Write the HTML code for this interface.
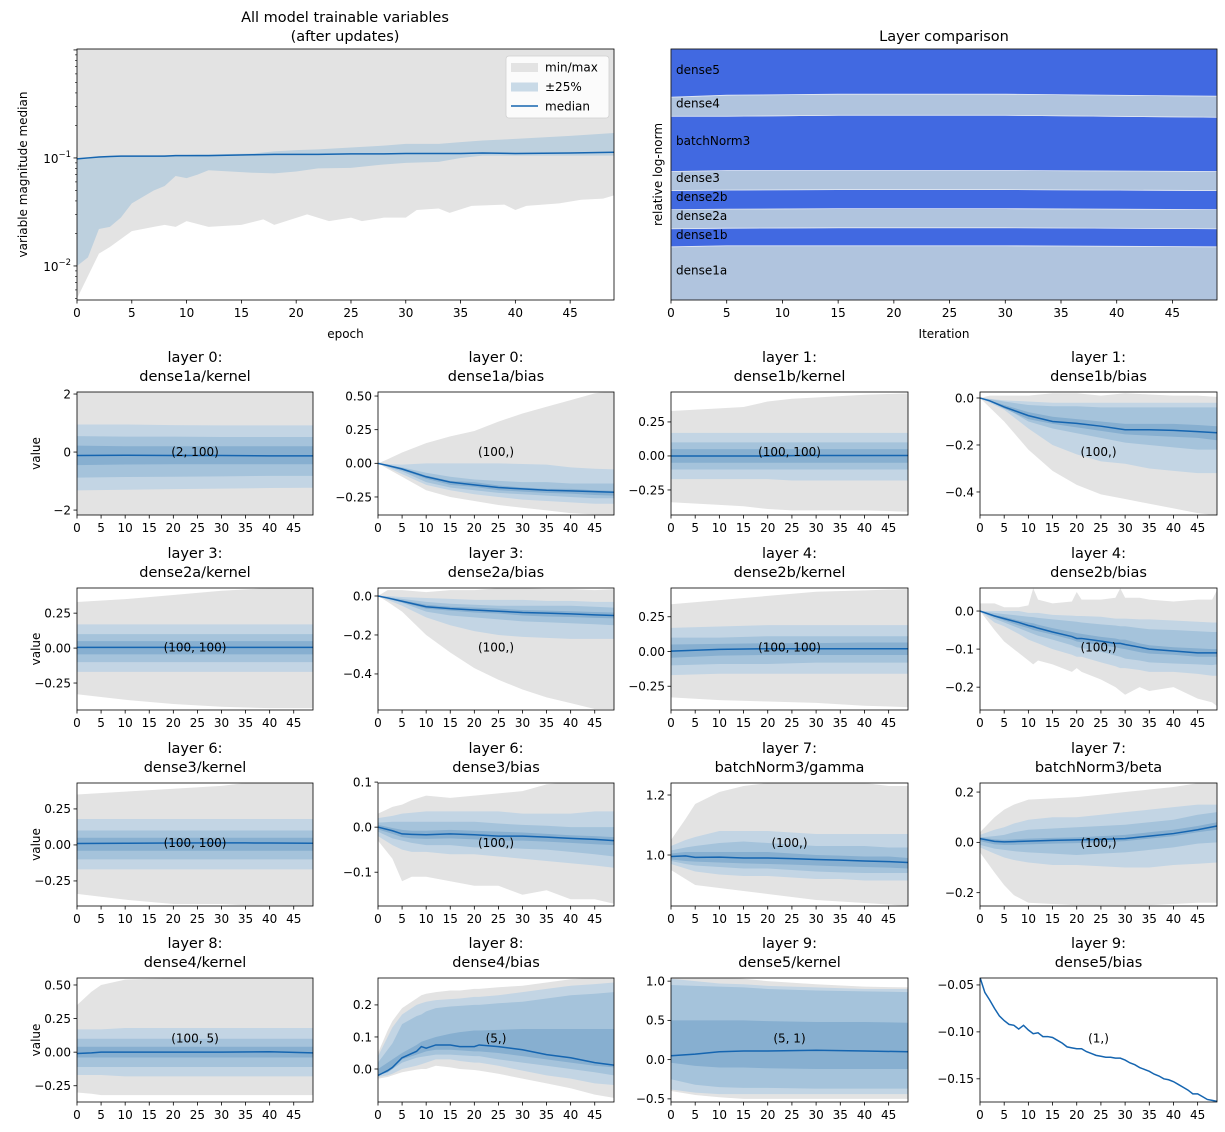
<!DOCTYPE html>
<html><head><meta charset="utf-8">
<style>
html,body{margin:0;padding:0;background:#fff;}
svg{display:block;font-family:"DejaVu Sans","Liberation Sans",sans-serif;}
</style></head>
<body>
<svg id="fig" width="1225" height="1132" viewBox="0 0 1225 1132" xmlns="http://www.w3.org/2000/svg"></svg>
<script>
// ---------- top-left data ----------
const tlMinEp=[0,2,3,5,7,8,9,10,12,15,17,18,21,23,25,26,28,30,31,33,34,36,39,40,41,44,46,48,49];
const tlMin=[0.005,0.013,0.015,0.021,0.023,0.024,0.023,0.026,0.023,0.024,0.027,0.024,0.03,0.026,0.028,0.026,0.028,0.028,0.033,0.034,0.031,0.036,0.037,0.033,0.036,0.038,0.041,0.042,0.045];
const tlEp=[0,1,2,3,4,5,7,8,9,10,11,12,16,18,20,22,25,28,30,33,35,37,40,45,49];
const tlLo=[0.01,0.012,0.022,0.023,0.028,0.038,0.05,0.055,0.068,0.065,0.07,0.077,0.073,0.072,0.075,0.08,0.081,0.087,0.09,0.092,0.1,0.105,0.105,0.105,0.105];
const tlHi=[0.1,0.102,0.103,0.104,0.104,0.105,0.105,0.106,0.107,0.107,0.108,0.108,0.11,0.115,0.118,0.12,0.125,0.13,0.135,0.135,0.14,0.145,0.15,0.16,0.17];
const tlMed=[0.098,0.1,0.102,0.103,0.104,0.104,0.104,0.104,0.105,0.105,0.105,0.105,0.107,0.108,0.108,0.108,0.109,0.109,0.11,0.11,0.11,0.111,0.11,0.111,0.113];
const tlMax=1.2;
// ---------- layer comparison data ----------
const lcEp=[0,5,15,30,49];
const lcLayers=["dense1a","dense1b","dense2a","dense2b","dense3","batchNorm3","dense4","dense5"];
const lcDense1a=[53,54,54,54,53];
const lcDense1b=[18,17.5,18,18,18];
const lcDense2a=[19,19,19,19,19];
const lcDense2b=[19,19,19,19,19];
const lcDense3=[19,19.5,19,19,19];
const lcBatchNorm3=[55,54,55,55,54];
const lcDense4=[19,21,21,21,21];
const lcDense5=[48,46,45,45,47];
const xTicks=[0,5,10,15,20,25,30,35,40,45];
// ---------- P1 dense1a/kernel ----------
const p1Ep=[0,10,20,30,40,49];
const p1Min=[-2.3,-2.3,-2.3,-2.3,-2.3,-2.3], p1Max=[2.2,2.2,2.2,2.2,2.2,2.2];
const p1H1=[0.95,0.95,0.93,0.92,0.92,0.92], p1L1=[-1.32,-1.3,-1.28,-1.26,-1.24,-1.23];
const p1H2=[0.55,0.53,0.53,0.52,0.52,0.52], p1L2=[-0.88,-0.86,-0.85,-0.84,-0.82,-0.82];
const p1H3=[0.22,0.2,0.2,0.2,0.2,0.2], p1L3=[-0.45,-0.43,-0.42,-0.42,-0.42,-0.42];
const p1Med=[-0.12,-0.11,-0.12,-0.12,-0.13,-0.13];
const p1Ticks=[-2,0,2], p1Labels=["−2","0","2"];
// ---------- P2 dense1a/bias ----------
const p2Ep=[0,2,5,10,15,20,25,30,35,40,45,49];
const p2Max=[0,0.03,0.08,0.15,0.2,0.24,0.31,0.37,0.42,0.47,0.52,0.54];
const p2Min=[0,-0.04,-0.1,-0.2,-0.25,-0.28,-0.31,-0.33,-0.35,-0.37,-0.38,-0.385];
const p2H1=[0,-0.005,-0.01,0,0,0,0,-0.005,-0.01,-0.03,-0.04,-0.045];
const p2L1=[0,-0.03,-0.08,-0.16,-0.2,-0.23,-0.25,-0.27,-0.28,-0.29,-0.3,-0.3];
const p2H2=[0,-0.01,-0.03,-0.07,-0.1,-0.12,-0.13,-0.14,-0.14,-0.15,-0.15,-0.15];
const p2L2=[0,-0.025,-0.06,-0.14,-0.18,-0.2,-0.22,-0.23,-0.24,-0.25,-0.26,-0.26];
const p2H3=[0,-0.013,-0.035,-0.09,-0.13,-0.14,-0.165,-0.18,-0.19,-0.19,-0.2,-0.205];
const p2L3=[0,-0.02,-0.05,-0.115,-0.16,-0.175,-0.2,-0.21,-0.22,-0.225,-0.235,-0.24];
const p2Med=[0,-0.016,-0.042,-0.1,-0.14,-0.16,-0.18,-0.19,-0.2,-0.205,-0.21,-0.215];
const p2Ticks=[-0.25,0,0.25,0.5], p2Labels=["−0.25","0.00","0.25","0.50"];
// ---------- P3 dense1b/kernel ----------
const p3Ep=[0,10,15,20,25,30,40,49];
const p3Max=[0.33,0.35,0.36,0.40,0.42,0.43,0.45,0.46];
const p3Min=[-0.34,-0.36,-0.37,-0.39,-0.40,-0.40,-0.40,-0.41];
const p3H1=[0.17,0.17,0.17,0.17,0.17,0.17,0.17,0.17], p3L1=[-0.17,-0.17,-0.17,-0.17,-0.18,-0.18,-0.18,-0.18];
const p3H2=[0.1,0.1,0.1,0.1,0.1,0.1,0.1,0.1], p3L2=[-0.1,-0.1,-0.1,-0.1,-0.1,-0.1,-0.1,-0.1];
const p3H3=[0.05,0.05,0.05,0.05,0.05,0.05,0.05,0.05], p3L3=[-0.05,-0.05,-0.05,-0.05,-0.05,-0.05,-0.05,-0.05];
const p3Med=[0,0,0,0,0.002,0.003,0.003,0.003];
const p3Ticks=[-0.25,0,0.25], p3Labels=["−0.25","0.00","0.25"];
// ---------- P4 dense1b/bias ----------
const p4Ep=[0,2,5,10,15,20,25,30,35,40,45,49];
const p4Max=[0,0.01,0.01,0.01,0.02,0.02,0.01,0.02,0.015,0.01,0.01,0.005];
const p4Min=[0,-0.04,-0.1,-0.22,-0.31,-0.37,-0.41,-0.43,-0.45,-0.47,-0.49,-0.5];
const p4H1=[0,-0.003,-0.01,-0.015,-0.02,-0.02,-0.02,-0.02,-0.02,-0.02,-0.02,-0.02];
const p4L1=[0,-0.02,-0.05,-0.13,-0.2,-0.24,-0.27,-0.28,-0.3,-0.31,-0.32,-0.32];
const p4H2=[0,-0.005,-0.015,-0.03,-0.035,-0.035,-0.04,-0.04,-0.04,-0.04,-0.04,-0.04];
const p4L2=[0,-0.015,-0.04,-0.1,-0.13,-0.15,-0.17,-0.19,-0.2,-0.21,-0.22,-0.22];
const p4H3=[0,-0.01,-0.03,-0.06,-0.08,-0.09,-0.1,-0.11,-0.11,-0.11,-0.115,-0.12];
const p4L3=[0,-0.015,-0.045,-0.09,-0.11,-0.125,-0.14,-0.155,-0.16,-0.165,-0.17,-0.18];
const p4Med=[0,-0.012,-0.038,-0.075,-0.1,-0.108,-0.12,-0.135,-0.135,-0.138,-0.143,-0.148];
const p4Ticks=[-0.4,-0.2,0], p4Labels=["−0.4","−0.2","0.0"];
// ---------- P5 dense2a/kernel ----------
const p5Ep=[0,10,20,30,40,49];
const p5Max=[0.33,0.35,0.38,0.41,0.43,0.43], p5Min=[-0.33,-0.37,-0.4,-0.42,-0.43,-0.43];
const p5H1=[0.17,0.17,0.17,0.17,0.17,0.17], p5L1=[-0.17,-0.17,-0.17,-0.17,-0.17,-0.17];
const p5H2=[0.1,0.1,0.1,0.1,0.1,0.1], p5L2=[-0.1,-0.1,-0.1,-0.1,-0.1,-0.1];
const p5H3=[0.05,0.05,0.05,0.05,0.05,0.05], p5L3=[-0.045,-0.045,-0.045,-0.045,-0.045,-0.045];
const p5Med=[0.005,0.005,0.005,0.005,0.005,0.005];
const p5Ticks=[-0.25,0,0.25], p5Labels=["−0.25","0.00","0.25"];
// ---------- P6 dense2a/bias ----------
const p6Ep=[0,2,5,10,15,20,25,30,35,40,45,49];
const p6Max=[0,0.03,0.03,0.02,0.03,0.03,0.04,0.04,0.035,0.035,0.03,0.035];
const p6Min=[0,-0.03,-0.08,-0.2,-0.29,-0.37,-0.43,-0.48,-0.52,-0.55,-0.58,-0.58];
const p6H1=[0,0,-0.005,-0.01,-0.015,-0.02,-0.02,-0.02,-0.025,-0.025,-0.03,-0.03];
const p6L1=[0,-0.02,-0.05,-0.11,-0.15,-0.18,-0.2,-0.21,-0.215,-0.22,-0.22,-0.22];
const p6H2=[0,-0.005,-0.015,-0.03,-0.04,-0.045,-0.05,-0.05,-0.05,-0.05,-0.055,-0.06];
const p6L2=[0,-0.015,-0.035,-0.08,-0.1,-0.11,-0.12,-0.13,-0.135,-0.14,-0.145,-0.15];
const p6H3=[0,-0.008,-0.022,-0.045,-0.055,-0.06,-0.065,-0.072,-0.075,-0.078,-0.082,-0.085];
const p6L3=[0,-0.012,-0.032,-0.065,-0.075,-0.085,-0.09,-0.1,-0.105,-0.108,-0.112,-0.115];
const p6Med=[0,-0.01,-0.027,-0.055,-0.065,-0.072,-0.078,-0.085,-0.088,-0.092,-0.097,-0.1];
const p6Ticks=[-0.4,-0.2,0], p6Labels=["−0.4","−0.2","0.0"];
// ---------- P7 dense2b/kernel ----------
const p7Ep=[0,10,20,30,40,49];
const p7Max=[0.34,0.37,0.40,0.43,0.44,0.45], p7Min=[-0.33,-0.35,-0.36,-0.37,-0.39,-0.4];
const p7H1=[0.17,0.18,0.19,0.19,0.19,0.19], p7L1=[-0.17,-0.16,-0.16,-0.16,-0.16,-0.16];
const p7H2=[0.1,0.1,0.11,0.11,0.11,0.11], p7L2=[-0.1,-0.09,-0.09,-0.08,-0.08,-0.08];
const p7H3=[0.05,0.055,0.06,0.06,0.065,0.065], p7L3=[-0.045,-0.03,-0.025,-0.025,-0.025,-0.025];
const p7Med=[0.003,0.015,0.02,0.02,0.02,0.02];
const p7Ticks=[-0.25,0,0.25], p7Labels=["−0.25","0.00","0.25"];
// ---------- P8 dense2b/bias ----------
const p8Ep=[0,3,5,8,10,11,12,15,19,20,21,25,28,29,30,33,35,40,45,48,49];
const p8Max=[0.02,0.02,0.01,0.01,0.015,0.06,0.03,0.02,0.025,0.05,0.03,0.03,0.035,0.06,0.035,0.035,0.03,0.025,0.03,0.03,0.055];
const p8Min=[0,-0.05,-0.08,-0.11,-0.13,-0.14,-0.13,-0.14,-0.16,-0.15,-0.16,-0.18,-0.2,-0.21,-0.22,-0.2,-0.21,-0.2,-0.23,-0.24,-0.25];
const p8H1=[0,0,0,0,-0.005,-0.005,-0.005,-0.01,-0.012,-0.013,-0.013,-0.015,-0.02,-0.02,-0.02,-0.022,-0.022,-0.025,-0.028,-0.03,-0.03];
const p8L1=[0,-0.03,-0.04,-0.06,-0.075,-0.08,-0.085,-0.1,-0.115,-0.12,-0.12,-0.135,-0.145,-0.15,-0.15,-0.155,-0.16,-0.16,-0.165,-0.17,-0.17];
const p8H2=[0,-0.005,-0.008,-0.012,-0.015,-0.016,-0.018,-0.022,-0.027,-0.028,-0.03,-0.035,-0.038,-0.04,-0.04,-0.045,-0.048,-0.05,-0.053,-0.055,-0.055];
const p8L2=[0,-0.02,-0.03,-0.045,-0.055,-0.06,-0.065,-0.075,-0.09,-0.095,-0.097,-0.107,-0.117,-0.12,-0.125,-0.13,-0.135,-0.138,-0.14,-0.142,-0.14];
const p8H3=[0,-0.01,-0.015,-0.025,-0.03,-0.032,-0.036,-0.045,-0.055,-0.058,-0.06,-0.068,-0.072,-0.075,-0.075,-0.085,-0.09,-0.095,-0.098,-0.1,-0.1];
const p8L3=[0,-0.015,-0.025,-0.038,-0.045,-0.05,-0.053,-0.062,-0.075,-0.08,-0.082,-0.09,-0.095,-0.098,-0.1,-0.108,-0.112,-0.115,-0.12,-0.12,-0.12];
const p8Med=[0,-0.013,-0.02,-0.03,-0.038,-0.041,-0.045,-0.055,-0.067,-0.072,-0.072,-0.079,-0.085,-0.085,-0.088,-0.095,-0.1,-0.105,-0.11,-0.11,-0.11];
const p8Ticks=[-0.2,-0.1,0], p8Labels=["−0.2","−0.1","0.0"];
// ---------- P9 dense3/kernel ----------
const p9Ep=[0,10,20,30,35,40,49];
const p9Max=[0.35,0.37,0.39,0.41,0.43,0.43,0.44], p9Min=[-0.34,-0.38,-0.41,-0.41,-0.42,-0.42,-0.43];
const p9H1=[0.18,0.18,0.18,0.18,0.18,0.18,0.18], p9L1=[-0.17,-0.17,-0.17,-0.17,-0.17,-0.17,-0.17];
const p9H2=[0.1,0.1,0.1,0.1,0.1,0.1,0.1], p9L2=[-0.1,-0.1,-0.1,-0.1,-0.1,-0.1,-0.1];
const p9H3=[0.05,0.05,0.05,0.05,0.05,0.05,0.05], p9L3=[-0.04,-0.04,-0.04,-0.04,-0.04,-0.04,-0.04];
const p9Med=[0.01,0.012,0.013,0.014,0.014,0.013,0.012];
const p9Ticks=[-0.25,0,0.25], p9Labels=["−0.25","0.00","0.25"];
// ---------- P10 dense3/bias ----------
const p10Ep=[0,3,5,7,10,15,20,25,30,35,40,45,49];
const p10Max=[0.03,0.045,0.05,0.06,0.07,0.065,0.07,0.075,0.08,0.095,0.1,0.1,0.1];
const p10Min=[-0.03,-0.07,-0.12,-0.11,-0.11,-0.12,-0.13,-0.13,-0.15,-0.14,-0.16,-0.16,-0.17];
const p10H1=[0.02,0.025,0.03,0.032,0.035,0.035,0.035,0.035,0.03,0.03,0.03,0.035,0.035];
const p10L1=[-0.02,-0.04,-0.05,-0.055,-0.055,-0.06,-0.06,-0.065,-0.07,-0.075,-0.08,-0.085,-0.09];
const p10H2=[0.01,0.012,0.012,0.012,0.012,0.012,0.012,0.008,0.005,0.003,0,0,0];
const p10L2=[-0.01,-0.025,-0.03,-0.035,-0.04,-0.04,-0.045,-0.045,-0.048,-0.05,-0.055,-0.06,-0.065];
const p10H3=[0.005,-0.002,-0.006,-0.008,-0.008,-0.006,-0.008,-0.01,-0.012,-0.015,-0.018,-0.02,-0.022];
const p10L3=[-0.005,-0.015,-0.022,-0.025,-0.026,-0.025,-0.027,-0.03,-0.03,-0.032,-0.035,-0.038,-0.04];
const p10Med=[0,-0.008,-0.015,-0.016,-0.017,-0.015,-0.017,-0.02,-0.02,-0.022,-0.025,-0.027,-0.03];
const p10Ticks=[-0.1,0,0.1], p10Labels=["−0.1","0.0","0.1"];
// ---------- P11 batchNorm3/gamma ----------
const p11Ep=[0,3,5,10,15,20,25,30,35,40,45,49];
const p11Max=[1.05,1.12,1.17,1.21,1.23,1.24,1.24,1.24,1.24,1.24,1.23,1.23];
const p11Min=[0.95,0.92,0.9,0.89,0.88,0.87,0.86,0.85,0.845,0.84,0.835,0.83];
const p11H1=[1.03,1.05,1.06,1.08,1.08,1.08,1.075,1.07,1.07,1.07,1.07,1.07];
const p11L1=[0.97,0.955,0.945,0.935,0.93,0.93,0.925,0.92,0.92,0.915,0.915,0.915];
const p11H2=[1.015,1.025,1.03,1.04,1.045,1.04,1.035,1.03,1.03,1.03,1.025,1.025];
const p11L2=[0.98,0.97,0.965,0.96,0.955,0.955,0.95,0.945,0.942,0.94,0.94,0.94];
const p11H3=[1.005,1.01,1.01,1.01,1.01,1.01,1.005,1.0,0.998,0.995,0.995,0.99];
const p11L3=[0.985,0.98,0.978,0.975,0.972,0.97,0.968,0.965,0.962,0.96,0.958,0.955];
const p11Med=[0.995,0.997,0.992,0.993,0.99,0.99,0.988,0.985,0.983,0.98,0.978,0.975];
const p11Ticks=[1.0,1.2], p11Labels=["1.0","1.2"];
// ---------- P12 batchNorm3/beta ----------
const p12Ep=[0,3,5,7,10,15,20,25,30,35,40,45,49];
const p12Max=[0.04,0.1,0.13,0.15,0.17,0.175,0.18,0.19,0.2,0.21,0.22,0.235,0.24];
const p12Min=[-0.04,-0.12,-0.17,-0.21,-0.24,-0.245,-0.25,-0.25,-0.25,-0.25,-0.245,-0.24,-0.24];
const p12H1=[0.03,0.05,0.06,0.075,0.09,0.1,0.1,0.11,0.12,0.13,0.14,0.15,0.15];
const p12L1=[-0.02,-0.045,-0.06,-0.07,-0.08,-0.09,-0.09,-0.095,-0.1,-0.1,-0.09,-0.085,-0.08];
const p12H2=[0.02,0.025,0.03,0.04,0.05,0.055,0.06,0.065,0.07,0.08,0.09,0.11,0.12];
const p12L2=[-0.01,-0.025,-0.03,-0.035,-0.04,-0.045,-0.05,-0.045,-0.04,-0.03,-0.02,-0.005,0];
const p12H3=[0.02,0.012,0.01,0.012,0.015,0.018,0.02,0.025,0.03,0.04,0.05,0.065,0.08];
const p12L3=[0.005,-0.008,-0.01,-0.01,-0.008,-0.005,-0.003,0,0.005,0.015,0.025,0.04,0.05];
const p12Med=[0.015,0.004,0.002,0.003,0.005,0.008,0.01,0.012,0.015,0.025,0.035,0.05,0.065];
const p12Ticks=[-0.2,0,0.2], p12Labels=["−0.2","0.0","0.2"];
// ---------- P13 dense4/kernel ----------
const p13Ep=[0,3,5,10,20,30,40,49];
const p13Max=[0.35,0.45,0.5,0.54,0.55,0.55,0.55,0.55];
const p13Min=[-0.3,-0.31,-0.32,-0.32,-0.32,-0.32,-0.32,-0.32];
const p13H1=[0.17,0.17,0.17,0.18,0.18,0.18,0.18,0.18], p13L1=[-0.17,-0.17,-0.17,-0.18,-0.18,-0.18,-0.18,-0.18];
const p13H2=[0.1,0.1,0.1,0.1,0.1,0.1,0.1,0.1], p13L2=[-0.11,-0.11,-0.11,-0.11,-0.11,-0.11,-0.11,-0.11];
const p13H3=[0.04,0.04,0.04,0.04,0.04,0.04,0.04,0.04], p13L3=[-0.04,-0.04,-0.04,-0.04,-0.04,-0.04,-0.04,-0.04];
const p13Med=[-0.01,-0.005,0,0,0,0,0.003,-0.005];
const p13Ticks=[-0.25,0,0.25,0.5], p13Labels=["−0.25","0.00","0.25","0.50"];
// ---------- P14 dense4/bias ----------
const p14Ep=[0,2,3,5,8,9,10,12,15,17,20,21,25,30,35,40,45,49];
const p14Max=[0.05,0.12,0.15,0.19,0.22,0.23,0.235,0.24,0.245,0.245,0.25,0.25,0.255,0.26,0.27,0.28,0.285,0.29];
const p14Min=[-0.03,-0.025,-0.02,-0.01,-0.002,0,0,0.01,0.005,0,-0.003,-0.005,-0.015,-0.03,-0.045,-0.06,-0.08,-0.09];
const p14H1=[0.04,0.1,0.13,0.17,0.2,0.205,0.21,0.215,0.218,0.22,0.225,0.225,0.23,0.24,0.25,0.26,0.265,0.27];
const p14L1=[-0.025,-0.02,-0.015,0,0.01,0.015,0.02,0.03,0.03,0.025,0.02,0.02,0.01,-0.005,-0.02,-0.03,-0.045,-0.05];
const p14H2=[0.02,0.06,0.08,0.14,0.165,0.17,0.18,0.19,0.195,0.197,0.2,0.2,0.205,0.21,0.22,0.23,0.235,0.24];
const p14L2=[-0.02,-0.01,0,0.02,0.035,0.038,0.04,0.045,0.045,0.043,0.04,0.04,0.03,0.02,0.01,0,-0.01,-0.02];
const p14H3=[0,0.02,0.03,0.05,0.075,0.085,0.09,0.1,0.11,0.115,0.12,0.12,0.122,0.125,0.125,0.125,0.125,0.125];
const p14L3=[-0.02,-0.01,0,0.03,0.045,0.05,0.055,0.06,0.06,0.058,0.055,0.055,0.05,0.04,0.03,0.02,0.01,0.005];
const p14Med=[-0.02,-0.005,0.005,0.035,0.055,0.07,0.065,0.075,0.075,0.07,0.07,0.075,0.07,0.06,0.045,0.035,0.02,0.012];
const p14Ticks=[0,0.1,0.2], p14Labels=["0.0","0.1","0.2"];
// ---------- P15 dense5/kernel ----------
const p15Ep=[0,5,10,15,20,30,40,49];
const p15Max=[1.07,1.06,1.05,1.03,1.0,0.96,0.93,0.92];
const p15Min=[-0.4,-0.45,-0.48,-0.5,-0.5,-0.5,-0.5,-0.5];
const p15H1=[1.03,1.0,0.97,0.96,0.94,0.92,0.9,0.9], p15L1=[-0.38,-0.42,-0.44,-0.44,-0.44,-0.44,-0.44,-0.44];
const p15H2=[0.95,0.94,0.93,0.92,0.9,0.88,0.87,0.86], p15L2=[-0.25,-0.32,-0.35,-0.36,-0.36,-0.37,-0.37,-0.37];
const p15H3=[0.5,0.5,0.5,0.5,0.49,0.48,0.48,0.47], p15L3=[-0.04,-0.08,-0.1,-0.1,-0.11,-0.12,-0.12,-0.12];
const p15Med=[0.05,0.07,0.1,0.11,0.11,0.12,0.11,0.1];
const p15Ticks=[-0.5,0,0.5,1.0], p15Labels=["−0.5","0.0","0.5","1.0"];
// ---------- P16 dense5/bias ----------
const p16Ep=[0,1,2,3,4,5,6,7,8,9,10,11,12,13,14,15,16,17,18,19,20,21,22,23,24,25,26,27,28,29,30,31,32,33,34,35,36,37,38,39,40,41,42,43,44,45,46,47,48,49];
const p16Med=[-0.042,-0.058,-0.066,-0.075,-0.083,-0.088,-0.092,-0.093,-0.097,-0.093,-0.098,-0.102,-0.101,-0.105,-0.105,-0.106,-0.109,-0.112,-0.116,-0.117,-0.118,-0.118,-0.121,-0.123,-0.125,-0.126,-0.127,-0.127,-0.128,-0.128,-0.130,-0.133,-0.135,-0.138,-0.140,-0.142,-0.145,-0.147,-0.150,-0.151,-0.153,-0.156,-0.159,-0.162,-0.166,-0.166,-0.169,-0.172,-0.173,-0.174];
const p16Ticks=[-0.15,-0.1,-0.05], p16Labels=["−0.15","−0.10","−0.05"];

// ================= drawing =================
const NS="http://www.w3.org/2000/svg";
const svg=document.getElementById("fig");
const GRAY="#e3e3e3", C1="#c3d5e4", C2="#a5c3db", C3="#87afd0", LINE="#1565b0";
function mk(tag,attrs,parent){const e=document.createElementNS(NS,tag);for(const k in attrs)e.setAttribute(k,attrs[k]);(parent||svg).appendChild(e);return e;}
function text(str,x,y,size,anchor,parent){const t=mk("text",{x:x,y:y,"font-size":size,"text-anchor":anchor||"middle",fill:"#000"},parent);t.textContent=str;return t;}
let clipId=0;
function bandPath(ep,lo,hi,sx,sy){let d="";for(let i=0;i<ep.length;i++)d+=(i?"L":"M")+sx(ep[i]).toFixed(2)+","+sy(hi[i]).toFixed(2);for(let i=ep.length-1;i>=0;i--)d+="L"+sx(ep[i]).toFixed(2)+","+sy(lo[i]).toFixed(2);return d+"Z";}
function linePath(ep,v,sx,sy){let d="";for(let i=0;i<ep.length;i++)d+=(i?"L":"M")+sx(ep[i]).toFixed(2)+","+sy(v[i]).toFixed(2);return d;}
function xAxis(g,x0,x1,y1,sx){
  for(const t of xTicks){const X=sx(t);
    const tk=mk("line",{x1:X,x2:X,y1:y1,y2:y1+3.5,stroke:"#000","stroke-width":0.8},g);
    
    
    const lb=text(String(t),X,y1+17,12,"middle",g);
    
    }
}
function panel(P){
  const [x0,x1]=P.cx,[y0,y1]=P.cy;
  const sx=e=>x0+e/49*(x1-x0);
  const sy=v=>y1-(v-P.ymin)/(P.ymax-P.ymin)*(y1-y0);
  const g=mk("g",{});
  
  
  const id="c"+(clipId++);
  const cp=mk("clipPath",{id:id},g);mk("rect",{x:x0,y:y0,width:x1-x0,height:y1-y0},cp);
  const pg=mk("g",{"clip-path":"url(#"+id+")"},g);
  if(P.mn){
    const a=mk("path",{d:bandPath(P.ep,P.mn,P.mx,sx,sy),fill:GRAY},pg);
    
    
    const cols=[C1,C2,C3];
    P.b.forEach((bd,i)=>{const p=mk("path",{d:bandPath(P.ep,bd[0],bd[1],sx,sy),fill:cols[i]},pg);
      
      });
  }
  const ml=mk("path",{d:linePath(P.ep,P.med,sx,sy),fill:"none",stroke:LINE,"stroke-width":1.5},pg);
  
  
  const fr=mk("rect",{x:x0,y:y0,width:x1-x0,height:y1-y0,fill:"none",stroke:"#000","stroke-width":0.8},g);
  
  
  P.ticks.forEach((t,i)=>{const Y=sy(t);
    const tk=mk("line",{x1:x0-3.5,x2:x0,y1:Y,y2:Y,stroke:"#000","stroke-width":0.8},g);
    
    
    const lb=text(P.labels[i],x0-6,Y+4.3,12,"end",g);
    
    });
  xAxis(g,x0,x1,y1,sx);
  const cx=(x0+x1)/2;
  const t1=text(P.t1,cx,y0-30,14.5,"middle",g);
  
  
  const t2=text(P.t2,cx,y0-11,14.5,"middle",g);
  
  
  const an=text(P.ann,cx,(y0+y1)/2+2.5,12,"middle",g);
  
  
  if(P.ylabel){const yl=mk("text",{x:0,y:0,"font-size":12,"text-anchor":"middle",transform:"translate(40,"+((y0+y1)/2)+") rotate(-90)"},g);yl.textContent="value";
    
    }
}
const COLS=[[77,313],[378,614],[671,908],[980,1217]];
const ROWS=[[392,515],[588,710],[783,906],[978,1102]];
const panels=[
 {name:"panel-dense1a-kernel",t1:"layer 0:",t2:"dense1a/kernel",ann:"(2, 100)",c:0,r:0,ymin:-2.17,ymax:2.07,ep:p1Ep,mn:p1Min,mx:p1Max,b:[[p1L1,p1H1],[p1L2,p1H2],[p1L3,p1H3]],med:p1Med,ticks:p1Ticks,labels:p1Labels,ylabel:1},
 {name:"panel-dense1a-bias",t1:"layer 0:",t2:"dense1a/bias",ann:"(100,)",c:1,r:0,ymin:-0.384,ymax:0.53,ep:p2Ep,mn:p2Min,mx:p2Max,b:[[p2L1,p2H1],[p2L2,p2H2],[p2L3,p2H3]],med:p2Med,ticks:p2Ticks,labels:p2Labels},
 {name:"panel-dense1b-kernel",t1:"layer 1:",t2:"dense1b/kernel",ann:"(100, 100)",c:2,r:0,ymin:-0.434,ymax:0.47,ep:p3Ep,mn:p3Min,mx:p3Max,b:[[p3L1,p3H1],[p3L2,p3H2],[p3L3,p3H3]],med:p3Med,ticks:p3Ticks,labels:p3Labels},
 {name:"panel-dense1b-bias",t1:"layer 1:",t2:"dense1b/bias",ann:"(100,)",c:3,r:0,ymin:-0.498,ymax:0.0255,ep:p4Ep,mn:p4Min,mx:p4Max,b:[[p4L1,p4H1],[p4L2,p4H2],[p4L3,p4H3]],med:p4Med,ticks:p4Ticks,labels:p4Labels},
 {name:"panel-dense2a-kernel",t1:"layer 3:",t2:"dense2a/kernel",ann:"(100, 100)",c:0,r:1,ymin:-0.443,ymax:0.43,ep:p5Ep,mn:p5Min,mx:p5Max,b:[[p5L1,p5H1],[p5L2,p5H2],[p5L3,p5H3]],med:p5Med,ticks:p5Ticks,labels:p5Labels,ylabel:1},
 {name:"panel-dense2a-bias",t1:"layer 3:",t2:"dense2a/bias",ann:"(100,)",c:1,r:1,ymin:-0.585,ymax:0.041,ep:p6Ep,mn:p6Min,mx:p6Max,b:[[p6L1,p6H1],[p6L2,p6H2],[p6L3,p6H3]],med:p6Med,ticks:p6Ticks,labels:p6Labels},
 {name:"panel-dense2b-kernel",t1:"layer 4:",t2:"dense2b/kernel",ann:"(100, 100)",c:2,r:1,ymin:-0.421,ymax:0.457,ep:p7Ep,mn:p7Min,mx:p7Max,b:[[p7L1,p7H1],[p7L2,p7H2],[p7L3,p7H3]],med:p7Med,ticks:p7Ticks,labels:p7Labels},
 {name:"panel-dense2b-bias",t1:"layer 4:",t2:"dense2b/bias",ann:"(100,)",c:3,r:1,ymin:-0.26,ymax:0.0605,ep:p8Ep,mn:p8Min,mx:p8Max,b:[[p8L1,p8H1],[p8L2,p8H2],[p8L3,p8H3]],med:p8Med,ticks:p8Ticks,labels:p8Labels},
 {name:"panel-dense3-kernel",t1:"layer 6:",t2:"dense3/kernel",ann:"(100, 100)",c:0,r:2,ymin:-0.424,ymax:0.43,ep:p9Ep,mn:p9Min,mx:p9Max,b:[[p9L1,p9H1],[p9L2,p9H2],[p9L3,p9H3]],med:p9Med,ticks:p9Ticks,labels:p9Labels,ylabel:1},
 {name:"panel-dense3-bias",t1:"layer 6:",t2:"dense3/bias",ann:"(100,)",c:1,r:2,ymin:-0.175,ymax:0.098,ep:p10Ep,mn:p10Min,mx:p10Max,b:[[p10L1,p10H1],[p10L2,p10H2],[p10L3,p10H3]],med:p10Med,ticks:p10Ticks,labels:p10Labels},
 {name:"panel-batchnorm3-gamma",t1:"layer 7:",t2:"batchNorm3/gamma",ann:"(100,)",c:2,r:2,ymin:0.83,ymax:1.24,ep:p11Ep,mn:p11Min,mx:p11Max,b:[[p11L1,p11H1],[p11L2,p11H2],[p11L3,p11H3]],med:p11Med,ticks:p11Ticks,labels:p11Labels},
 {name:"panel-batchnorm3-beta",t1:"layer 7:",t2:"batchNorm3/beta",ann:"(100,)",c:3,r:2,ymin:-0.253,ymax:0.236,ep:p12Ep,mn:p12Min,mx:p12Max,b:[[p12L1,p12H1],[p12L2,p12H2],[p12L3,p12H3]],med:p12Med,ticks:p12Ticks,labels:p12Labels},
 {name:"panel-dense4-kernel",t1:"layer 8:",t2:"dense4/kernel",ann:"(100, 5)",c:0,r:3,ymin:-0.371,ymax:0.552,ep:p13Ep,mn:p13Min,mx:p13Max,b:[[p13L1,p13H1],[p13L2,p13H2],[p13L3,p13H3]],med:p13Med,ticks:p13Ticks,labels:p13Labels,ylabel:1},
 {name:"panel-dense4-bias",t1:"layer 8:",t2:"dense4/bias",ann:"(5,)",c:1,r:3,ymin:-0.103,ymax:0.284,ep:p14Ep,mn:p14Min,mx:p14Max,b:[[p14L1,p14H1],[p14L2,p14H2],[p14L3,p14H3]],med:p14Med,ticks:p14Ticks,labels:p14Labels},
 {name:"panel-dense5-kernel",t1:"layer 9:",t2:"dense5/kernel",ann:"(5, 1)",c:2,r:3,ymin:-0.54,ymax:1.04,ep:p15Ep,mn:p15Min,mx:p15Max,b:[[p15L1,p15H1],[p15L2,p15H2],[p15L3,p15H3]],med:p15Med,ticks:p15Ticks,labels:p15Labels},
 {name:"panel-dense5-bias",t1:"layer 9:",t2:"dense5/bias",ann:"(1,)",c:3,r:3,ymin:-0.1747,ymax:-0.0426,ep:p16Ep,mn:null,med:p16Med,ticks:p16Ticks,labels:p16Labels}
];
panels.forEach(P=>{P.cx=COLS[P.c];P.cy=ROWS[P.r];panel(P);});

// ---------- top-left log chart ----------
(function(){
  const x0=77,x1=614,y0=49,y1=300;
  const lmin=Math.log10(0.00484),lmax=Math.log10(1.02);
  const sx=e=>x0+e/49*(x1-x0);
  const sy=v=>y1-(Math.log10(v)-lmin)/(lmax-lmin)*(y1-y0);
  const g=mk("g",{});
  
  
  const cp=mk("clipPath",{id:"ctl"},g);mk("rect",{x:x0,y:y0,width:x1-x0,height:y1-y0},cp);
  const pg=mk("g",{"clip-path":"url(#ctl)"},g);
  const maxArr=tlMinEp.map(()=>tlMax);
  const a=mk("path",{d:bandPath(tlMinEp,tlMin,maxArr,sx,sy),fill:GRAY},pg);
  
  
  const b=mk("path",{d:bandPath(tlEp,tlLo,tlHi,sx,sy),fill:"#bdd0de"},pg);
  
  
  const m=mk("path",{d:linePath(tlEp,tlMed,sx,sy),fill:"none",stroke:LINE,"stroke-width":1.5},pg);
  
  
  const fr=mk("rect",{x:x0,y:y0,width:x1-x0,height:y1-y0,fill:"none",stroke:"#000","stroke-width":0.8},g);
  
  
  [0.001,0.01,0.1,1].forEach(dec=>{for(let k=1;k<10;k++){const v=dec*k;const Y=sy(v);if(Y<y0-0.5||Y>y1+0.5)continue;
    const tk=mk("line",{x1:x0-(k==1?3.5:2),x2:x0,y1:Y,y2:Y,stroke:"#000","stroke-width":k==1?0.8:0.6},g);
    
    }});
  [[0.1,"−1"],[0.01,"−2"]].forEach(([v,e])=>{const t=mk("text",{x:x0-6,y:sy(v)+5,"font-size":12,"text-anchor":"end"},g);
    
    
    const a1=mk("tspan",{},t);a1.textContent="10";const a2=mk("tspan",{"font-size":8.5,dy:-6},t);a2.textContent=e;});
  xAxis(g,x0,x1,y1,sx);
  const xl=text("epoch",(x0+x1)/2,338,12,"middle",g);
  
  
  const yl=mk("text",{x:0,y:0,"font-size":12,"text-anchor":"middle",transform:"translate(27,"+((y0+y1)/2)+") rotate(-90)"},g);yl.textContent="variable magnitude median";
  
  
  const t1=text("All model trainable variables",345,22,14.5,"middle",g);
  
  
  const t2=text("(after updates)",345,41,14.5,"middle",g);
  
  
  // legend
  const lg=mk("g",{},g);
  
  
  mk("rect",{x:506,y:56,width:103,height:62,rx:3,fill:"#fff","fill-opacity":0.85,stroke:"#d0d0d0","stroke-width":0.8},lg);
  const items=[["min/max",GRAY],["±25%","#c9dae7"],["median",null]];
  items.forEach((it,i)=>{const Y=67+i*19.5;
    if(it[1]){const r=mk("rect",{x:511,y:Y-4,width:27,height:9,fill:it[1]},lg);
      
      }
    else{const l=mk("line",{x1:511,x2:538,y1:Y,y2:Y,stroke:LINE,"stroke-width":1.5},lg);
      
      }
    const t=text(it[0],545,Y+4.5,12,"start",lg);
    
    });
})();

// ---------- layer comparison ----------
(function(){
  const x0=671,x1=1217,y0=49,y1=300,ymax=250;
  const sx=e=>x0+e/49*(x1-x0);
  const sy=v=>y1-v/ymax*(y1-y0);
  const series=[lcDense1a,lcDense1b,lcDense2a,lcDense2b,lcDense3,lcBatchNorm3,lcDense4,lcDense5];
  const g=mk("g",{});
  
  
  const cum=lcEp.map(()=>0);
  series.forEach((s,i)=>{
    const lo=cum.slice();const hi=cum.map((c,j)=>c+s[j]);
    const p=mk("path",{d:bandPath(lcEp,lo,hi,sx,sy),fill:i%2?"#4169e1":"#b0c4de",stroke:"#dfe6f2","stroke-width":0.8},g);
    
    
    const t=text(lcLayers[i],676,sy((lo[0]+hi[0])/2)+1,12,"start",g);
    
    
    hi.forEach((v,j)=>cum[j]=v);
  });
  const fr=mk("rect",{x:x0,y:y0,width:x1-x0,height:y1-y0,fill:"none",stroke:"#000","stroke-width":0.8},g);
  
  
  xAxis(g,x0,x1,y1,sx);
  const xl=text("Iteration",(x0+x1)/2,338,12,"middle",g);
  
  
  const yl=mk("text",{x:0,y:0,"font-size":12,"text-anchor":"middle",transform:"translate(662,"+((y0+y1)/2)+") rotate(-90)"},g);yl.textContent="relative log-norm";
  
  
  const tt=text("Layer comparison",944,41,14.5,"middle",g);
  
  
})();
</script>
</body></html>
